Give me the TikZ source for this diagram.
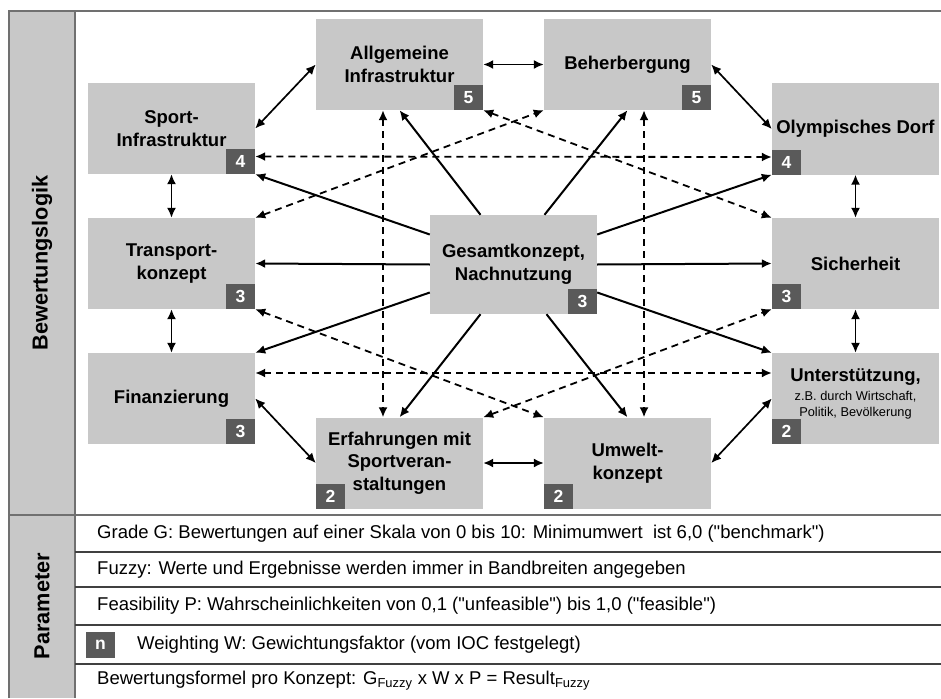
\documentclass[tikz,border=0pt]{standalone}
\usepackage{fontspec}
\setmainfont{Liberation Sans}
\usetikzlibrary{arrows.meta, calc}
\definecolor{boxgray}{HTML}{C8C8C8}
\definecolor{badgegray}{HTML}{5A5A5A}
\definecolor{framegray}{HTML}{707070}
\definecolor{rowgray}{HTML}{404040}
\newcommand{\notefont}{\fontsize{12.8}{16.5}\selectfont\mdseries}
\tikzset{
  box/.style={fill=boxgray, minimum width=167pt, minimum height=91pt, inner sep=0pt, align=center, font=\fontsize{18.5}{22.5}\selectfont\bfseries},
  boxtext/.style={inner sep=0pt, align=center, font=\fontsize{18.5}{22.5}\selectfont\bfseries},
  badge/.style={fill=badgegray, text=white, minimum width=29pt, minimum height=25pt, inner sep=0pt, font=\fontsize{17.5}{17.5}\selectfont\bfseries},
  tip/.tip={Latex[length=10pt, width=9pt]},
  ring/.style={tip-tip, line width=1.7pt},
  hub/.style={-tip, line width=2pt},
  link/.style={tip-tip, line width=1.8pt, dash pattern=on 7pt off 5pt},
  frameline/.style={framegray, line width=1.6pt},
  rowline/.style={rowgray, line width=1.4pt},
  param/.style={anchor=west, inner sep=0pt, font=\fontsize{18.5}{22}\selectfont},
  sidelabel/.style={rotate=90, inner sep=0pt, font=\fontsize{21.7}{24}\selectfont\bfseries},
}
\begin{document}
\begin{tikzpicture}[x=1pt, y=-1pt]
    \useasboundingbox (0,0) rectangle (941,698);

    % --- Frame and side column ---
    \fill[boxgray] (9,11) rectangle (75,698);
    \draw[frameline] (9,698) -- (9,11) -- (941,11);
    \draw[frameline] (75,11) -- (75,698);
    \draw[frameline] (9,515) -- (941,515);
    \foreach \y in {552,587,625,664}
        \draw[rowline] (75,\y) -- (941,\y);
    \node[sidelabel] (logik) at (42,263) {Bewertungslogik};
    \node[sidelabel] (param) at (42,606) {Parameter};

    % --- Concept boxes ---
    \node[box] (allg) at (399.5,64.5) {Allgemeine\\Infrastruktur};
    \node[box] (beher) at (627.5,64.5) {Beherbergung};
    \node[box] (sport) at (171.5,128.5) {Sport-\\Infrastruktur};
    \node[box] (olymp) at (855.5,129) {Olympisches Dorf};
    \node[box] (transp) at (171.5,263.5) {Transport-\\konzept};
    \node[box, minimum height=99pt] (gesamt) at (513.5,264.5) {Gesamtkonzept,\\Nachnutzung};
    \node[box] (sicher) at (855.5,263.5) {Sicherheit};
    \node[box] (finanz) at (171.5,398.5) {Finanzierung};
    \node[box] (unter) at (855.5,398.5) {};
    \node[boxtext] (untertext) at (855.5,394) {Unterstützung,\\[-4pt]
        \notefont z.B. durch Wirtschaft,\\[-6pt]\notefont Politik, Bevölkerung};
    \node[box] (erfahr) at (399.5,463) {Erfahrungen mit\\Sportveran-\\staltungen};
    \node[box] (umwelt) at (627.5,463) {Umwelt-\\konzept};

    % --- Weighting badges ---
    \node[badge, anchor=south east] (allgw) at (allg.south east) {5};
    \node[badge, anchor=south east] (beherw) at (beher.south east) {5};
    \node[badge, anchor=south east] (sportw) at (sport.south east) {4};
    \node[badge, anchor=south west] (olympw) at (olymp.south west) {4};
    \node[badge, anchor=south east] (transpw) at (transp.south east) {3};
    \node[badge, anchor=south east] (gesamtw) at (gesamt.south east) {3};
    \node[badge, anchor=south west] (sicherw) at (sicher.south west) {3};
    \node[badge, anchor=south east] (finanzw) at (finanz.south east) {3};
    \node[badge, anchor=south west] (unterw) at (unter.south west) {2};
    \node[badge, anchor=south west] (erfahrw) at (erfahr.south west) {2};
    \node[badge, anchor=south west] (umweltw) at (umwelt.south west) {2};

    % --- Ring of neighbours ---
    \draw[ring] (sport.east) -- (allg.west);
    \draw[ring] (allg.east) -- (beher.west);
    \draw[ring] (beher.east) -- (olymp.west);
    \draw[ring] (olymp.south) -- (sicher.north);
    \draw[ring] (sicher.south) -- (unter.north);
    \draw[ring] (unter.west) -- (umwelt.east);
    \draw[ring] (umwelt.west) -- (erfahr.east);
    \draw[ring] (erfahr.west) -- (finanz.east);
    \draw[ring] (finanz.north) -- (transp.south);
    \draw[ring] (transp.north) -- (sport.south);

    % --- From the overall concept ---
    \draw[hub] ([yshift=30pt]gesamt.west) -- (sport.south east);
    \draw[hub] (gesamt.west) -- (transp.east);
    \draw[hub] ([yshift=-28pt]gesamt.west) -- (finanz.north east);
    \draw[hub] ([xshift=-33pt]gesamt.north) -- (allg.south);
    \draw[hub] ([xshift=31pt]gesamt.north) -- (beher.south);
    \draw[hub] ([yshift=30pt]gesamt.east) -- (olymp.south west);
    \draw[hub] (gesamt.east) -- (sicher.west);
    \draw[hub] ([yshift=-28pt]gesamt.east) -- (unter.north west);
    \draw[hub] ([xshift=-33pt]gesamt.south) -- (erfahr.north);
    \draw[hub] ([xshift=33pt]gesamt.south) -- (umwelt.north);

    % --- Cross links (dashed) ---
    \draw[link] ([yshift=-28pt]sport.east) -- ([yshift=-28pt]olymp.west);
    \draw[link] (transp.north east) -- (beher.south west);
    \draw[link] (allg.south east) -- (sicher.north west);
    \draw[link] (transp.south east) -- (umwelt.north west);
    \draw[link] ([yshift=25.5pt]finanz.east) -- ([yshift=25.5pt]unter.west);
    \draw[link] (erfahr.north east) -- (sicher.south west);
    \draw[link] ([xshift=-16.5pt]allg.south) -- ([xshift=-16.5pt]erfahr.north);
    \draw[link] ([xshift=16.5pt]beher.south) -- ([xshift=16.5pt]umwelt.north);

    % --- Parameter rows ---
    \node[param] (grade) at (97,533.5) {Grade G: Bewertungen auf einer Skala von 0 bis 10: Minimumwert~ ist 6,0 (\textquotedbl benchmark\textquotedbl)};
    \node[param] (fuzzy) at (97,569.5) {Fuzzy: Werte und Ergebnisse werden immer in Bandbreiten angegeben};
    \node[param] (feas) at (97,606) {Feasibility P: Wahrscheinlichkeiten von 0,1 (\textquotedbl unfeasible\textquotedbl) bis 1,0 (\textquotedbl feasible\textquotedbl)};
    \node[badge, minimum height=26pt] (nbadge) at (100.5,645) {n};
    \node[param] (weight) at (137,644.5) {Weighting W: Gewichtungsfaktor (vom IOC festgelegt)};
    \node[param] (formula) at (97,681) {Bewertungsformel pro Konzept: G\textsubscript{Fuzzy} x W x P = Result\textsubscript{Fuzzy}};

\end{tikzpicture}
\end{document}
